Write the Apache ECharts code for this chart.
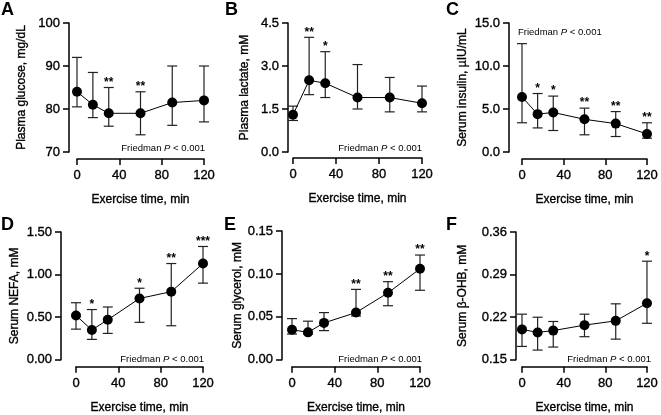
<!DOCTYPE html>
<html>
<head>
<meta charset="utf-8">
<script src="https://cdn.jsdelivr.net/npm/echarts@6/dist/echarts.min.js"></script>
<style>
  html, body { margin: 0; padding: 0; background: #fff; }
  #main { width: 661px; height: 415px; }
</style>
</head>
<body>
<div id="main"></div>
<script>
// time points (min)
var times = [0, 15, 30, 60, 90, 120];
var xTicks = [0, 40, 80, 120];

// A - plasma glucose
var glucoseMedian = [84, 81, 79, 79, 81.5, 82];
var glucoseLow = [80.5, 78, 76, 74, 76.2, 77];
var glucoseHigh = [92, 88.5, 85, 84, 90, 90];
var glucoseStars = ['', '', '**', '**', '', ''];
var glucoseTicks = [70, 80, 90, 100];

// B - plasma lactate
var lactateMedian = [1.3, 2.5, 2.4, 1.9, 1.9, 1.7];
var lactateLow = [1.1, 2.0, 1.9, 1.5, 1.4, 1.4];
var lactateHigh = [1.6, 4.0, 3.5, 3.05, 2.6, 2.3];
var lactateStars = ['', '**', '*', '', '', ''];
var lactateTicks = [0, 1.5, 3.0, 4.5];

// C - serum insulin
var insulinMedian = [6.4, 4.4, 4.6, 3.8, 3.3, 2.1];
var insulinLow = [3.4, 2.8, 2.5, 2.0, 1.8, 1.6];
var insulinHigh = [12.6, 6.8, 6.5, 5.1, 4.7, 3.4];
var insulinStars = ['', '*', '*', '**', '**', '**'];
var insulinTicks = [0, 5, 10, 15];

// D - serum NEFA
var nefaMedian = [0.52, 0.35, 0.47, 0.72, 0.80, 1.13];
var nefaLow = [0.36, 0.24, 0.31, 0.44, 0.40, 0.90];
var nefaHigh = [0.67, 0.59, 0.62, 0.84, 1.13, 1.33];
var nefaStars = ['', '*', '', '*', '**', '***'];
var nefaTicks = [0, 0.5, 1.0, 1.5];

// E - serum glycerol
var glycerolMedian = [0.035, 0.032, 0.043, 0.055, 0.078, 0.106];
var glycerolLow = [0.030, 0.030, 0.034, 0.051, 0.063, 0.081];
var glycerolHigh = [0.048, 0.045, 0.055, 0.082, 0.091, 0.122];
var glycerolStars = ['', '', '', '**', '**', '**'];
var glycerolTicks = [0, 0.05, 0.10, 0.15];

// F - serum beta-OHB
var bohbMedian = [0.200, 0.195, 0.198, 0.207, 0.214, 0.243];
var bohbLow = [0.172, 0.166, 0.171, 0.188, 0.184, 0.210];
var bohbHigh = [0.225, 0.220, 0.213, 0.225, 0.242, 0.312];
var bohbStars = ['', '', '', '', '', '*'];
var bohbTicks = [0.15, 0.22, 0.29, 0.36];

var FONT = '"Liberation Sans", Arial, sans-serif';

// layout of each panel (pixels)
var panels = [
  {letter: 'A', name: 'Plasma glucose, mg/dL', med: glucoseMedian, lo: glucoseLow, hi: glucoseHigh, stars: glucoseStars, ticks: glucoseTicks, dec: 0,
   yAx: 69, x0: 77, x1: 204, top: 23, bot: 152, xAx: 159, nameX: 22, lx: 1, ly: 10, fr: {x: 205, y: 148, align: 'right'}},
  {letter: 'B', name: 'Plasma lactate, mM', med: lactateMedian, lo: lactateLow, hi: lactateHigh, stars: lactateStars, ticks: lactateTicks, dec: 1,
   yAx: 288, x0: 293, x1: 422, top: 23, bot: 152, xAx: 158, nameX: 245, lx: 225, ly: 10, fr: {x: 422, y: 148, align: 'right'}},
  {letter: 'C', name: 'Serum insulin, µIU/mL', med: insulinMedian, lo: insulinLow, hi: insulinHigh, stars: insulinStars, ticks: insulinTicks, dec: 1,
   yAx: 509, x0: 522, x1: 649, top: 23, bot: 152, xAx: 159, nameX: 463, lx: 446, ly: 10, fr: {x: 518, y: 32, align: 'left'}},
  {letter: 'D', name: 'Serum NEFA, mM', med: nefaMedian, lo: nefaLow, hi: nefaHigh, stars: nefaStars, ticks: nefaTicks, dec: 2,
   yAx: 61, x0: 76, x1: 203, top: 232, bot: 362, xAx: 369, nameX: 15, lx: 1, ly: 225, fr: {x: 204, y: 359, align: 'right'}},
  {letter: 'E', name: 'Serum glycerol, mM', med: glycerolMedian, lo: glycerolLow, hi: glycerolHigh, stars: glycerolStars, ticks: glycerolTicks, dec: 2,
   yAx: 282, x0: 292, x1: 420, top: 231, bot: 362, xAx: 369, nameX: 238, lx: 224, ly: 225, fr: {x: 422, y: 359, align: 'right'}},
  {letter: 'F', name: 'Serum β-OHB, mM', med: bohbMedian, lo: bohbLow, hi: bohbHigh, stars: bohbStars, ticks: bohbTicks, dec: 2,
   yAx: 516, x0: 522, x1: 649, top: 232, bot: 361, xAx: 368, nameX: 463, lx: 446, ly: 225, fr: {x: 651, y: 359, align: 'right'}}
];

// error bar + significance stars
function makeErrorBar(stars) {
  return function (params, api) {
    var t = api.value(0);
    var pLo = api.coord([t, api.value(1)]);
    var pHi = api.coord([t, api.value(2)]);
    var w = 5;
    var st = {stroke: '#222', lineWidth: 1.2};
    var children = [
      {type: 'line', shape: {x1: pHi[0], y1: pHi[1], x2: pLo[0], y2: pLo[1]}, style: st},
      {type: 'line', shape: {x1: pHi[0] - w, y1: pHi[1], x2: pHi[0] + w, y2: pHi[1]}, style: st},
      {type: 'line', shape: {x1: pLo[0] - w, y1: pLo[1], x2: pLo[0] + w, y2: pLo[1]}, style: st}
    ];
    var s = stars[params.dataIndex];
    if (s) {
      children.push({type: 'text', x: pHi[0], y: pHi[1] + 1,
        style: {text: s, fill: '#000', font: 'bold 12px ' + FONT, align: 'center', verticalAlign: 'bottom'}});
    }
    return {type: 'group', children: children};
  };
}

var grids = [], xAxes = [], yAxes = [], series = [], graphics = [];
var axisStyle = {color: '#000', width: 1.5};
// slight stroke to mimic the heavier text of the original figure
var heavy = {textBorderColor: '#000', textBorderWidth: 0.35};

panels.forEach(function (p, i) {
  grids.push({left: p.x0, top: p.top, width: p.x1 - p.x0, height: p.bot - p.top});
  xAxes.push({
    type: 'value', gridIndex: i, min: 0, max: 120, interval: 40,
    offset: p.xAx - p.bot,
    axisLine: {show: true, onZero: false, lineStyle: axisStyle},
    axisTick: {show: true, length: 6, lineStyle: axisStyle},
    axisLabel: Object.assign({color: '#000', fontSize: 13, fontFamily: FONT, margin: 10, customValues: xTicks}, heavy),
    splitLine: {show: false},
    name: 'Exercise time, min', nameLocation: 'middle', nameGap: 35,
    nameTextStyle: Object.assign({color: '#000', fontSize: 12, fontFamily: FONT}, heavy)
  });
  yAxes.push({
    type: 'value', gridIndex: i, min: p.ticks[0], max: p.ticks[p.ticks.length - 1],
    offset: p.x0 - p.yAx,
    axisLine: {show: true, onZero: false, lineStyle: axisStyle},
    axisTick: {show: true, length: 6, lineStyle: axisStyle, customValues: p.ticks},
    axisLabel: Object.assign({color: '#000', fontSize: 13, fontFamily: FONT, margin: 9, customValues: p.ticks,
      formatter: (function (d) { return function (v) { return v.toFixed(d); }; })(p.dec)}, heavy),
    splitLine: {show: false},
    name: p.name, nameLocation: 'middle', nameGap: p.yAx - p.nameX - 6,
    nameTextStyle: Object.assign({color: '#000', fontSize: 12, fontFamily: FONT}, heavy)
  });
  series.push({
    type: 'custom', xAxisIndex: i, yAxisIndex: i, clip: false, z: 2,
    renderItem: makeErrorBar(p.stars),
    data: times.map(function (t, k) { return [t, p.lo[k], p.hi[k]]; })
  });
  series.push({
    type: 'line', xAxisIndex: i, yAxisIndex: i, clip: false, z: 3,
    symbol: 'circle', symbolSize: 10,
    itemStyle: {color: '#000'},
    lineStyle: {color: '#000', width: 1},
    data: times.map(function (t, k) { return [t, p.med[k]]; })
  });
  graphics.push({type: 'text', x: p.lx, y: p.ly,
    style: {text: p.letter, fill: '#000', font: 'bold 18px ' + FONT, verticalAlign: 'middle'}});
  graphics.push({type: 'text', x: p.fr.x, y: p.fr.y,
    style: {text: '{n|Friedman }{i|P}{n| < 0.001}', align: p.fr.align, verticalAlign: 'middle',
      rich: {n: {fontSize: 9.5, fontFamily: FONT, fill: '#000', color: '#000'},
             i: {fontSize: 9.5, fontFamily: FONT, fontStyle: 'italic', fill: '#000', color: '#000'}}}});
});

var chart = echarts.init(document.getElementById('main'));
chart.setOption({
  animation: false,
  backgroundColor: '#fff',
  textStyle: {fontFamily: FONT},
  grid: grids,
  xAxis: xAxes,
  yAxis: yAxes,
  series: series,
  graphic: graphics
});
</script>
</body>
</html>
